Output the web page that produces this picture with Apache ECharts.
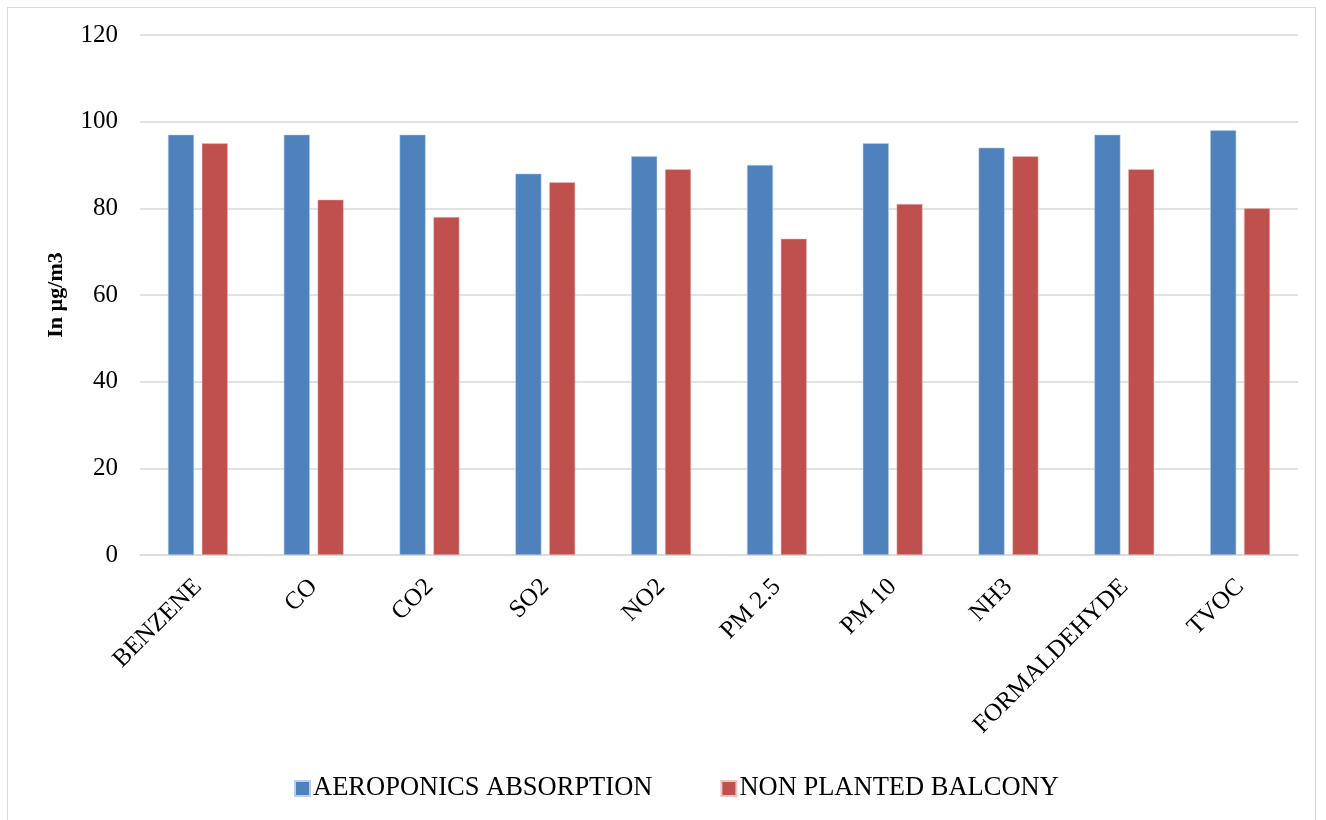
<!DOCTYPE html>
<html>
<head>
<meta charset="utf-8">
<script src="https://cdn.jsdelivr.net/npm/echarts@6/dist/echarts.min.js"></script>
<style>
html,body{margin:0;padding:0;background:#fff;}
#frame{position:absolute;left:7px;top:7px;width:1309px;height:820px;border:1px solid #d9d9d9;box-sizing:border-box;}
#chart{position:absolute;left:0;top:0;width:1326px;height:820px;}
</style>
</head>
<body>
<div id="frame"></div>
<div id="chart"></div>
<script>
const categories = ["BENZENE","CO","CO2","SO2","NO2","PM 2.5","PM 10","NH3","FORMALDEHYDE","TVOC"];
const aeroponics = [97,97,97,88,92,90,95,94,97,98];
const nonPlanted = [95,82,78,86,89,73,81,92,89,80];
const seriesNames = ["AEROPONICS ABSORPTION","NON PLANTED BALCONY"];
const yTitle = "In µg/m3";

const font = "'Liberation Serif','Times New Roman',serif";
const chart = echarts.init(document.getElementById('chart'));
chart.setOption({
  animation:false,
  textStyle:{fontFamily:font},
  grid:{left:140,right:28,top:35,bottom:265,containLabel:false},
  legend:{
    bottom:13,left:289,itemWidth:15,itemHeight:15,itemGap:68,
    icon:'rect',
    textStyle:{fontFamily:font,fontSize:26.5,color:'#000',padding:[0,0,0,-2]},
    data:seriesNames
  },
  xAxis:{
    type:'category',data:categories,
    axisLine:{lineStyle:{color:'#d9d9d9',width:1.5}},
    axisTick:{show:false},
    axisLabel:{rotate:45,fontFamily:font,fontSize:25,color:'#000',margin:28,interval:0}
  },
  yAxis:{
    type:'value',min:0,max:120,interval:20,
    name:yTitle,nameLocation:'middle',nameGap:73,
    nameTextStyle:{fontFamily:font,fontSize:22,fontWeight:'bold',color:'#000'},
    axisLine:{show:false},axisTick:{show:false},
    splitLine:{lineStyle:{color:'#d9d9d9',width:1.5}},
    axisLabel:{fontFamily:font,fontSize:25,color:'#000',margin:22}
  },
  series:[
    {name:seriesNames[0],type:'bar',data:aeroponics,barWidth:26,barGap:'30%',
     itemStyle:{color:'#4F81BD',borderColor:'#bcd0ea',borderWidth:0.5}},
    {name:seriesNames[1],type:'bar',data:nonPlanted,barWidth:26,
     itemStyle:{color:'#C0504D',borderColor:'#ecc4c3',borderWidth:0.5}}
  ]
});
</script>
</body>
</html>
